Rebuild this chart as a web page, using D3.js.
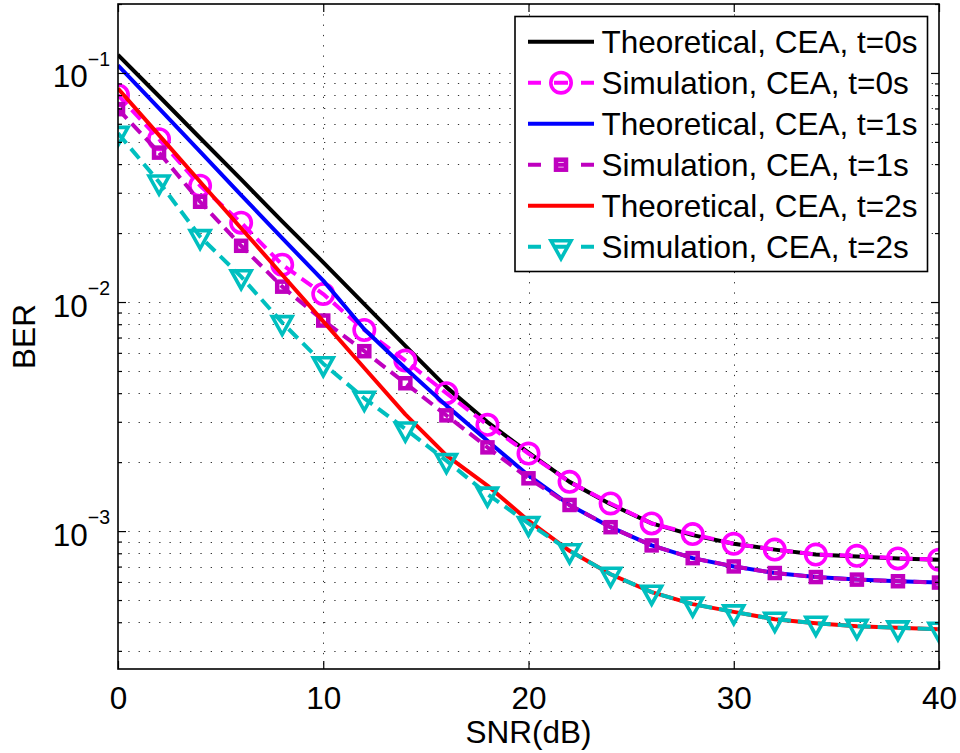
<!DOCTYPE html>
<html>
<head>
<meta charset="utf-8">
<script src="https://cdn.jsdelivr.net/npm/d3@7"></script>
<style>
  html, body { margin: 0; padding: 0; background: #fff; }
  svg { display: block; font-family: "Liberation Sans", Arial, Helvetica, sans-serif; }
</style>
</head>
<body>
<svg id="chart" width="960" height="753"></svg>
<script>
// ---- data ----
const snr = [0, 2, 4, 6, 8, 10, 12, 14, 16, 18, 20, 22, 24, 26, 28, 30, 32, 34, 36, 38, 40];
const theo0 = [0.120, 0.0791, 0.0520, 0.0343, 0.0225, 0.0149, 0.0098, 0.00644, 0.00425, 0.00299, 0.00220, 0.00164, 0.00131, 0.00108, 0.00096, 0.00088, 0.00083, 0.00079, 0.000775, 0.00076, 0.00075];
const sim0  = [0.080, 0.0514, 0.0322, 0.0222, 0.01455, 0.01083, 0.00755, 0.00555, 0.0040, 0.00291, 0.00218, 0.00164, 0.00132, 0.00108, 0.00097, 0.00088, 0.00083, 0.00079, 0.00078, 0.00076, 0.00075];
const theo1 = [0.108, 0.0701, 0.0454, 0.0293, 0.0190, 0.0124, 0.0076, 0.00514, 0.00353, 0.00248, 0.00175, 0.00130, 0.00104, 0.000866, 0.000762, 0.000701, 0.000656, 0.00063, 0.000614, 0.000604, 0.000596];
const sim1  = [0.0695, 0.0449, 0.0274, 0.0176, 0.01167, 0.0083, 0.0061, 0.00442, 0.0032, 0.00232, 0.0017, 0.0013, 0.00104, 0.000866, 0.000762, 0.000701, 0.000656, 0.00063, 0.000614, 0.000604, 0.000596];
const theo2 = [0.0855, 0.0535, 0.0335, 0.0210, 0.01315, 0.00823, 0.00515, 0.00323, 0.00214, 0.00158, 0.00111, 0.00082, 0.000648, 0.000541, 0.00048, 0.000444, 0.000412, 0.000396, 0.000384, 0.000378, 0.000373];
const sim2  = [0.0545, 0.0334, 0.0193, 0.0129, 0.00813, 0.00538, 0.0038, 0.00279, 0.00203, 0.00145, 0.00108, 0.000821, 0.000648, 0.000541, 0.00048, 0.000444, 0.000412, 0.000396, 0.000384, 0.000378, 0.000373];

const seriesNames = ["Theoretical, CEA, t=0s", "Simulation, CEA, t=0s", "Theoretical, CEA, t=1s", "Simulation, CEA, t=1s", "Theoretical, CEA, t=2s", "Simulation, CEA, t=2s"];
const seriesValues = [theo0, sim0, theo1, sim1, theo2, sim2];
const seriesColors = ["#000000", "#ff00ff", "#0000ff", "#bf00bf", "#ff0000", "#00bfbf"];
const seriesMarkers = [null, "circle", null, "square", null, "triangle"];
const seriesDashed = [false, true, false, true, false, true];

const xTicks = [0, 10, 20, 30, 40];
const yMajorTicks = [1e-3, 1e-2, 1e-1];
const yExponents = ["\u22123", "\u22122", "\u22121"];
const xLabel = "SNR(dB)";
const yLabel = "BER";

// ---- layout ----
const L = 118, R = 939, T = 4, B = 669;
const FS = 31.5;
const svg = d3.select("#chart");
const x = d3.scaleLinear().domain([0, 40]).range([L, R]);
const y = d3.scaleLog().domain([2.5e-4, 0.2]).range([B, T]);

// minor log ticks
const yMinor = [];
[1e-4, 1e-3, 1e-2, 1e-1].forEach(d => {
  for (let k = 2; k <= 9; k++) {
    const v = +(k * d).toPrecision(3);
    if (v >= 2.5e-4 && v <= 0.2 + 1e-9) yMinor.push(v);
  }
});

// grid
const grid = svg.append("g").attr("stroke", "#333").attr("stroke-width", 1)
  .attr("stroke-dasharray", "1.3,9").attr("fill", "none");
yMajorTicks.concat(yMinor).forEach(v => {
  const yy = Math.round(y(v)) + 0.5;
  if (yy <= T + 1) return;
  grid.append("line").attr("x1", L).attr("x2", R).attr("y1", yy).attr("y2", yy);
});
xTicks.slice(1, -1).forEach(v => {
  const xx = Math.round(x(v)) + 0.5;
  grid.append("line").attr("x1", xx).attr("x2", xx).attr("y1", T).attr("y2", B);
});

// clip
svg.append("defs").append("clipPath").attr("id", "clip")
  .append("rect").attr("x", L).attr("y", T).attr("width", R - L).attr("height", B - T);

const plot = svg.append("g").attr("clip-path", "url(#clip)");
const line = d3.line().x((d, i) => x(snr[i])).y(d => y(d));

function drawMarker(g, type, cx, cy, color) {
  if (type === "circle") {
    g.append("circle").attr("cx", cx).attr("cy", cy).attr("r", 10.2)
      .attr("fill", "none").attr("stroke", color).attr("stroke-width", 3.6);
  } else if (type === "square") {
    g.append("rect").attr("x", cx - 5).attr("y", cy - 5).attr("width", 10).attr("height", 10)
      .attr("fill", "none").attr("stroke", color).attr("stroke-width", 4.5);
  } else if (type === "triangle") {
    const p = [[cx - 10, cy - 6], [cx + 10, cy - 6], [cx, cy + 12]];
    g.append("path").attr("d", "M" + p.map(q => q.join(",")).join("L") + "Z")
      .attr("fill", "none").attr("stroke", color).attr("stroke-width", 3.6)
      .attr("stroke-linejoin", "miter");
  }
}

seriesValues.forEach((vals, si) => {
  const g = plot.append("g");
  g.append("path").datum(vals).attr("d", line)
    .attr("fill", "none").attr("stroke", seriesColors[si]).attr("stroke-width", 4)
    .attr("stroke-dasharray", seriesDashed[si] ? "13,7" : null)
    .attr("stroke-linejoin", "round");
  if (seriesMarkers[si]) {
    vals.forEach((v, i) => drawMarker(g, seriesMarkers[si], x(snr[i]), y(v), seriesColors[si]));
  }
});

// axes (ticks inward on all sides)
const tickLen = 8;
const axB = svg.append("g").attr("transform", `translate(0,${B})`)
  .call(d3.axisBottom(x).tickValues(xTicks).tickSize(-tickLen).tickPadding(18).tickFormat(d3.format("d")));
const axT = svg.append("g").attr("transform", `translate(0,${T})`)
  .call(d3.axisTop(x).tickValues(xTicks).tickSize(-tickLen).tickFormat(""));
const axL = svg.append("g").attr("transform", `translate(${L},0)`)
  .call(d3.axisLeft(y).tickValues(yMajorTicks).tickSize(-tickLen).tickPadding(16));
const axLm = svg.append("g").attr("transform", `translate(${L},0)`)
  .call(d3.axisLeft(y).tickValues(yMinor).tickSize(-4).tickFormat(""));
const axR = svg.append("g").attr("transform", `translate(${R},0)`)
  .call(d3.axisRight(y).tickValues(yMajorTicks).tickSize(-tickLen).tickFormat(""));
const axRm = svg.append("g").attr("transform", `translate(${R},0)`)
  .call(d3.axisRight(y).tickValues(yMinor).tickSize(-4).tickFormat(""));

[axB, axT, axL, axLm, axR, axRm].forEach(a => {
  a.select(".domain").remove();
  a.selectAll(".tick line").attr("stroke", "#000").attr("stroke-width", 1.2);
});

axB.selectAll(".tick text").attr("font-size", FS).attr("fill", "#000")
  .attr("font-family", "Liberation Sans, Arial, sans-serif").attr("dy", "0.71em");

axL.selectAll(".tick text").each(function(d) {
  const t = d3.select(this);
  t.text("").attr("font-size", FS).attr("fill", "#000")
    .attr("font-family", "Liberation Sans, Arial, sans-serif")
    .attr("x", -8).attr("dy", 14).attr("text-anchor", "end");
  t.append("tspan").text("10");
  t.append("tspan").attr("font-size", 19.5).attr("dy", -21.5).text(yExponents[yMajorTicks.indexOf(d)]);
});

// box
svg.append("rect").attr("x", L).attr("y", T).attr("width", R - L).attr("height", B - T)
  .attr("fill", "none").attr("stroke", "#000").attr("stroke-width", 1.6);

// labels
svg.append("text").attr("x", (L + R) / 2).attr("y", 743).attr("text-anchor", "middle")
  .attr("font-size", FS).attr("fill", "#000").text(xLabel);
svg.append("text").attr("transform", `translate(35,${(T + B) / 2}) rotate(-90)`)
  .attr("text-anchor", "middle").attr("font-size", FS).attr("fill", "#000").text(yLabel);

// legend
const lg = svg.append("g");
lg.append("rect").attr("x", 515).attr("y", 16.5).attr("width", 412.5).attr("height", 255)
  .attr("fill", "#fff").attr("stroke", "#000").attr("stroke-width", 1.6);
seriesNames.forEach((name, i) => {
  const cy = 41.7 + 41 * i;
  const g = lg.append("g");
  g.append("line").attr("x1", 528).attr("x2", 594).attr("y1", cy).attr("y2", cy)
    .attr("stroke", seriesColors[i]).attr("stroke-width", 4)
    .attr("stroke-dasharray", seriesDashed[i] ? "13,13,14,13,13" : null);
  if (seriesMarkers[i]) drawMarker(g, seriesMarkers[i], 561, cy, seriesColors[i]);
  g.append("text").attr("x", 601.5).attr("y", cy + 11).attr("font-size", FS)
    .attr("fill", "#000").text(name);
});
</script>
</body>
</html>
